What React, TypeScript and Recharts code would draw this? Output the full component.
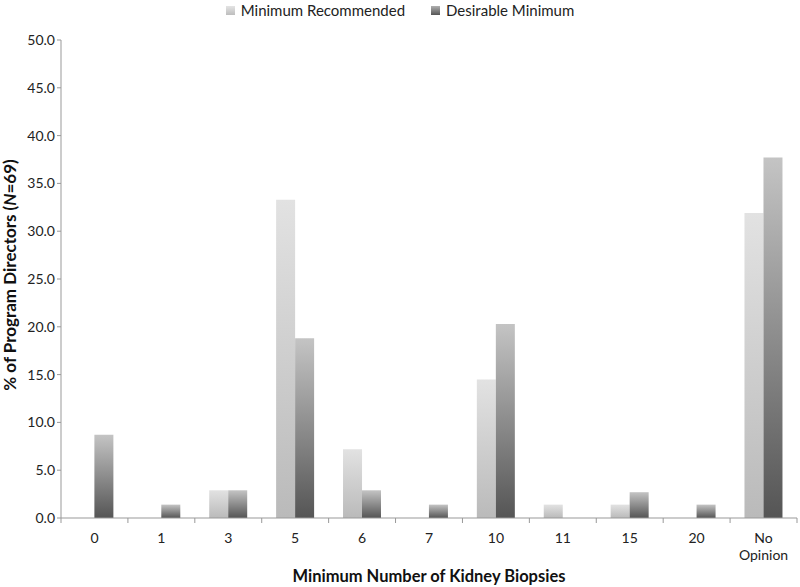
import { BarChart, Bar, XAxis, YAxis } from "recharts"

const categories = ["0", "1", "3", "5", "6", "7", "10", "11", "15", "20", "No Opinion"]
const minimumRecommended = [0, 0, 2.9, 33.3, 7.2, 0, 14.5, 1.4, 1.4, 0, 31.9]
const desirableMinimum = [8.7, 1.4, 2.9, 18.8, 2.9, 1.4, 20.3, 0, 2.7, 1.4, 37.7]
const yTicks = [0, 5, 10, 15, 20, 25, 30, 35, 40, 45, 50]
const legendItems = [
  { label: "Minimum Recommended", top: "#e4e4e4", bottom: "#bdbdbd" },
  { label: "Desirable Minimum", top: "#b0b0b0", bottom: "#555555" },
]

const data = categories.map((c, i) => ({
  category: c,
  recommended: minimumRecommended[i],
  desirable: desirableMinimum[i],
}))

const FONT = "Lato, 'Open Sans', sans-serif"
const W = 800
const H = 587
const margin = { top: 40, right: 3, left: 0, bottom: 0 }
const yAxisWidth = 61
const xAxisHeight = 69
const band = (W - margin.left - margin.right - yAxisWidth) / categories.length

function CategoryTick({ x, y, payload, index }: any) {
  const lines = payload.value === "No Opinion" ? ["No", "Opinion"] : [payload.value]
  const left = x - band / 2
  return (
    <g>
      <line x1={left} y1={y - 8} x2={left} y2={y - 3} stroke="#999" />
      {index === categories.length - 1 && (
        <line x1={left + band} y1={y - 8} x2={left + band} y2={y - 3} stroke="#999" />
      )}
      {lines.map((l, i) => (
        <text key={l} x={x} y={y + 17 + i * 17} textAnchor="middle" fontSize={14} fill="#222" fontFamily={FONT}>
          {l}
        </text>
      ))}
    </g>
  )
}

function ChartLegend() {
  return (
    <div
      style={{
        position: "absolute",
        top: 1,
        left: 0,
        width: W,
        display: "flex",
        justifyContent: "center",
        gap: 26,
        fontFamily: FONT,
        fontSize: 15,
        color: "#222",
        boxSizing: "border-box",
      }}
    >
      {legendItems.map((it, i) => (
        <div key={it.label} style={{ display: "flex", alignItems: "center", gap: 6 }}>
          <svg width={9} height={9}>
            <defs>
              <linearGradient id={"legendGrad" + i} x1="0" y1="0" x2="0" y2="1">
                <stop offset="0%" stopColor={it.top} />
                <stop offset="100%" stopColor={it.bottom} />
              </linearGradient>
            </defs>
            <rect width={9} height={9} fill={`url(#legendGrad${i})`} />
          </svg>
          <span>{it.label}</span>
        </div>
      ))}
    </div>
  )
}

export default function App() {
  return (
    <div style={{ position: "absolute", left: 0, top: 0, width: W, height: H, background: "#fff" }}>
      <BarChart width={W} height={H} data={data} margin={margin} barGap={0} barCategoryGap="21.5%">
        <defs>
          <linearGradient id="gradLight" x1="0" y1="0" x2="0" y2="1">
            <stop offset="0%" stopColor="#e2e2e2" />
            <stop offset="100%" stopColor="#bababa" />
          </linearGradient>
          <linearGradient id="gradDark" x1="0" y1="0" x2="0" y2="1">
            <stop offset="0%" stopColor="#c4c4c4" />
            <stop offset="100%" stopColor="#555555" />
          </linearGradient>
        </defs>
        <XAxis
          dataKey="category"
          height={xAxisHeight}
          stroke="#999"
          tickLine={false}
          interval={0}
          tick={<CategoryTick />}
          label={({ viewBox }: any) => (
            <text
              x={viewBox.x + viewBox.width / 2}
              y={viewBox.y + 64}
              textAnchor="middle"
              fontFamily={FONT}
              fontSize={16.5}
              fontWeight="bold"
              fill="#111"
            >
              Minimum Number of Kidney Biopsies
            </text>
          )}
        />
        <YAxis
          width={yAxisWidth}
          domain={[0, 50]}
          ticks={yTicks}
          interval={0}
          stroke="#999"
          tickSize={4}
          tick={{ fontFamily: FONT, fontSize: 14, fill: "#222" }}
          tickFormatter={(v: number) => v.toFixed(1)}
          label={({ viewBox }: any) => (
            <text
              x={12}
              y={viewBox.y + viewBox.height / 2 - 4}
              transform={`rotate(-90, 12, ${viewBox.y + viewBox.height / 2 - 4})`}
              textAnchor="middle"
              dominantBaseline="middle"
              fontFamily={FONT}
              fontSize={17}
              fontWeight="bold"
              fill="#111"
            >
              % of Program Directors (<tspan fontStyle="italic">N</tspan>=69)
            </text>
          )}
        />
        <Bar dataKey="recommended" name="Minimum Recommended" fill="url(#gradLight)" isAnimationActive={false} />
        <Bar dataKey="desirable" name="Desirable Minimum" fill="url(#gradDark)" isAnimationActive={false} />
      </BarChart>
      <ChartLegend />
    </div>
  )
}
